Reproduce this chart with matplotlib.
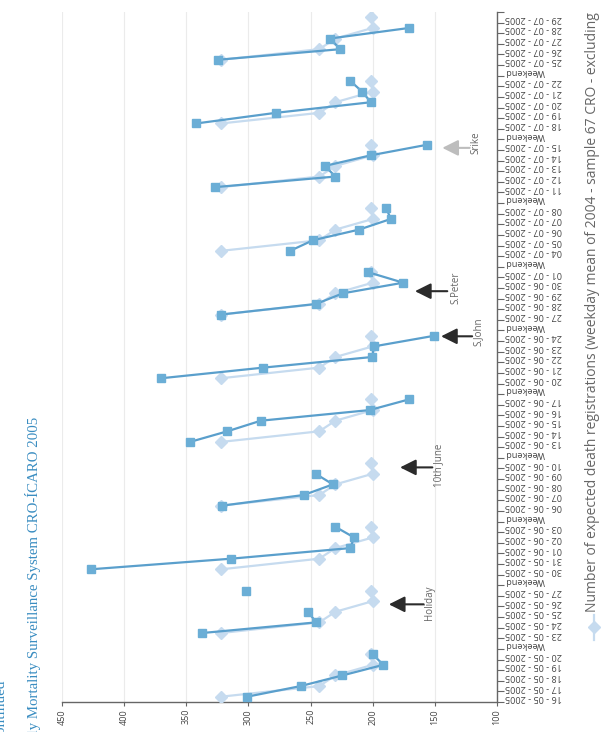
import numpy as np
import matplotlib
matplotlib.use('Agg')
import matplotlib.pyplot as plt
from matplotlib.lines import Line2D

nan = np.nan

categories = [
    '16 - 05 - 2005', '17 - 05 - 2005', '18 - 05 - 2005', '19 - 05 - 2005', '20 - 05 - 2005', 'Weekend',
    '23 - 05 - 2005', '24 - 05 - 2005', '25 - 05 - 2005', '26 - 05 - 2005', '27 - 05 - 2005', 'Weekend',
    '30 - 05 - 2005', '31 - 05 - 2005', '01 - 06 - 2005', '02 - 06 - 2005', '03 - 06 - 2005', 'Weekend',
    '06 - 06 - 2005', '07 - 06 - 2005', '08 - 06 - 2005', '09 - 06 - 2005', '10 - 06 - 2005', 'Weekend',
    '13 - 06 - 2005', '14 - 06 - 2005', '15 - 06 - 2005', '16 - 06 - 2005', '17 - 06 - 2005', 'Weekend',
    '20 - 06 - 2005', '21 - 06 - 2005', '22 - 06 - 2005', '23 - 06 - 2005', '24 - 06 - 2005', 'Weekend',
    '27 - 06 - 2005', '28 - 06 - 2005', '29 - 06 - 2005', '30 - 06 - 2005', '01 - 07 - 2005', 'Weekend',
    '04 - 07 - 2005', '05 - 07 - 2005', '06 - 07 - 2005', '07 - 07 - 2005', '08 - 07 - 2005', 'Weekend',
    '11 - 07 - 2005', '12 - 07 - 2005', '13 - 07 - 2005', '14 - 07 - 2005', '15 - 07 - 2005', 'Weekend',
    '18 - 07 - 2005', '19 - 07 - 2005', '20 - 07 - 2005', '21 - 07 - 2005', '22 - 07 - 2005', 'Weekend',
    '25 - 07 - 2005', '26 - 07 - 2005', '27 - 07 - 2005', '28 - 07 - 2005', '29 - 07 - 2005',
]

# Expected (weekday mean of 2004)
expected = [
    322, 243, 230, 200, 201, nan,
    322, 243, 230, 200, 201, nan,
    322, 243, 230, 200, 201, nan,
    322, 243, 230, 200, 201, nan,
    322, 243, 230, 200, 201, nan,
    322, 243, 230, 200, 201, nan,
    322, 243, 230, 200, 201, nan,
    322, 243, 230, 200, 201, nan,
    322, 243, 230, 200, 201, nan,
    322, 243, 230, 200, 201, nan,
    322, 243, 230, 200, 201,
]

# Observed 2005
observed = [
    301, 258, 224.5, 191.5, 200, nan,
    337, 245.5, 252, nan, 302, nan,
    427, 314, 218, 215, 230, nan,
    321, 255.5, 232, 246, nan, nan,
    347, 317, 290, 202.5, 171, nan,
    370, 288, 200.5, 199, 150.5, nan,
    322, 245.5, 224, 175.5, 204, nan,
    266.5, 248, 211, 185.5, 189, nan,
    327, 230, 238.5, 201.5, 156, nan,
    342, 278, 201.5, 208.5, 218, nan,
    324.5, 226, 234.5, 170.5, nan,
]

value_ticks = [450, 400, 350, 300, 250, 200, 150, 100]

title_text = 'Daily Mortality Surveillance System CRO-ÍCARO 2005'
legend_text = ('Number of expected death registrations (weekday mean of 2004 - '
               'sample 67 CRO - excluding')

# annotations: (label, y-category position, arrow tip value, arrow tail value, text value, text y, color)
notes = [
    ('Holiday', 8.7, 187, 159, 154, 8.85, '#2b2b2b'),
    ('10th June', 21.6, 178, 152, 147, 21.8, '#2b2b2b'),
    ('S.John', 33.95, 145, 120, 115, 34.4, '#2b2b2b'),
    ('S.Peter', 38.2, 166, 140, 133, 38.5, '#2b2b2b'),
    ('Srike', 51.7, 144, 122, 117, 52.2, '#bdbdbd'),
]

W, H = 601, 732
fig = plt.figure(figsize=(W / 100, H / 100), dpi=100)
ax = fig.add_axes([62 / W, 30 / H, 435 / W, 690 / H])

ypos = np.arange(len(categories))
ax.plot(expected, ypos, color='#c6dbef', lw=1.6, marker='D', ms=5.8,
        mfc='#c6dbef', mec='#c6dbef', zorder=3)
ax.plot(observed, ypos, color='#5a9fcc', lw=1.6, marker='s', ms=5.8,
        mfc='#6baed6', mec='#6baed6', zorder=4)

ax.set_xlim(450, 100)
ax.set_ylim(-0.5, len(categories) - 0.5)

ax.set_xticks(value_ticks)
ax.set_xticklabels([str(v) for v in value_ticks], rotation=90, fontsize=6.5,
                   color='#444444', family='Open Sans')
ax.tick_params(axis='x', length=3, color='#666666', pad=2)
ax.xaxis.grid(True, color='#ebebeb', lw=0.8)
ax.set_axisbelow(True)

ax.set_yticks(np.arange(-0.5, len(categories), 1.0))
ax.set_yticklabels([])
ax.set_yticks(ypos, minor=True)
ax.set_yticklabels(categories, minor=True, rotation=180, fontsize=6.6,
                   color='#444444', family='Open Sans')
ax.tick_params(axis='y', which='both', left=False, right=True,
               labelleft=False, labelright=True)
ax.tick_params(axis='y', which='minor', length=0, pad=6)
ax.tick_params(axis='y', which='major', length=5, color='#666666', width=0.8)

for s in ['left', 'top']:
    ax.spines[s].set_visible(False)
for s in ['bottom', 'right']:
    ax.spines[s].set_color('#666666')
    ax.spines[s].set_linewidth(1.0)

for label, yy, tip, tail, tv, ty, col in notes:
    ax.annotate('', xy=(tip, yy), xytext=(tail, yy),
                arrowprops=dict(arrowstyle='-|>,head_length=0.6,head_width=0.3',
                                color=col, lw=1.5, mutation_scale=16,
                                shrinkA=0, shrinkB=0), zorder=5)
    ax.text(tv, ty, label, rotation=90, ha='center', va='center', fontsize=7,
            color='#666666', family='Open Sans')

# title (partly cut off at the figure edge, as in the reference)
fig.text(33 / W, 1 - 417 / H, title_text, rotation=90, ha='center', va='top',
         fontsize=10.75, family='Liberation Serif', color='#3a8dc1')
fig.text(1 / W, 1 - 680 / H, 'continued', rotation=90, ha='center', va='top',
         fontsize=11, family='Liberation Serif', color='#3a8dc1')

# legend (partly visible)
fig.add_artist(Line2D([594 / W, 594 / W], [1 - 640 / H, 1 - 615 / H],
                      transform=fig.transFigure, color='#c6dbef', lw=1.6))
fig.add_artist(Line2D([594 / W], [1 - 627 / H], transform=fig.transFigure,
                      marker='D', ms=6, color='#c6dbef', mfc='#c6dbef', mec='#c6dbef'))
fig.text(593 / W, 1 - 612 / H, legend_text, rotation=90, ha='center', va='bottom',
         fontsize=10, family='Open Sans', color='#666666')

fig.savefig('out.png', dpi=100)
